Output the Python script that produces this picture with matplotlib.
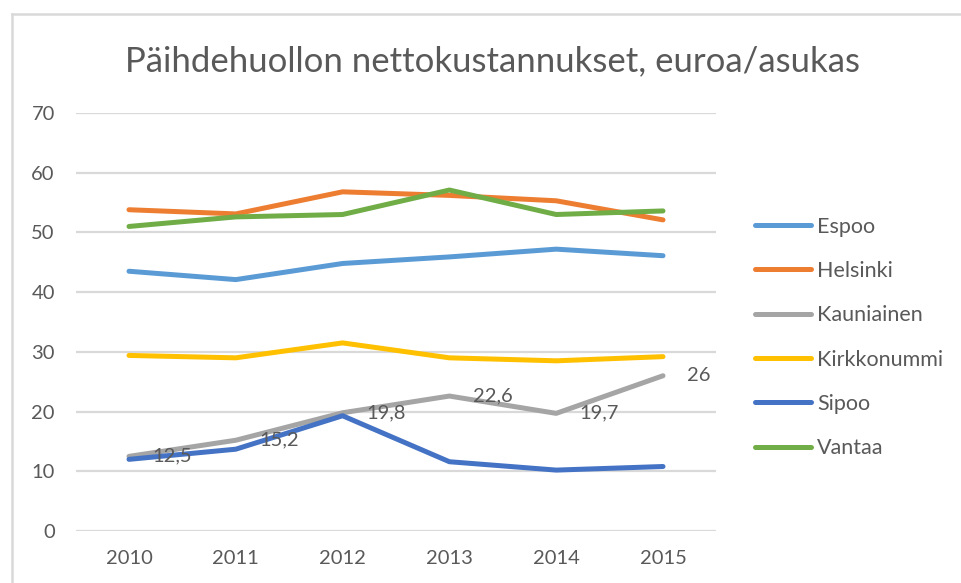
import matplotlib
matplotlib.use("Agg")
import matplotlib.pyplot as plt
from matplotlib.lines import Line2D

years = ["2010", "2011", "2012", "2013", "2014", "2015"]
espoo = [43.5, 42.1, 44.8, 45.9, 47.2, 46.1]
helsinki = [53.8, 53.1, 56.8, 56.2, 55.3, 52.1]
kauniainen = [12.5, 15.2, 19.8, 22.6, 19.7, 26.0]
kirkkonummi = [29.4, 29.0, 31.5, 29.0, 28.5, 29.2]
sipoo = [12.0, 13.7, 19.3, 11.6, 10.2, 10.8]
vantaa = [51.0, 52.6, 53.0, 57.1, 53.0, 53.6]

series_names = ["Espoo", "Helsinki", "Kauniainen", "Kirkkonummi", "Sipoo", "Vantaa"]
series_values = [espoo, helsinki, kauniainen, kirkkonummi, sipoo, vantaa]
series_colors = ["#5B9BD5", "#ED7D31", "#A5A5A5", "#FFC000", "#4472C4", "#70AD47"]

y_ticks = [0, 10, 20, 30, 40, 50, 60, 70]
title = "Päihdehuollon nettokustannukset, euroa/asukas"

plt.rcParams["font.family"] = ["Lato", "DejaVu Sans"]
text_color = "#595959"
grid_color = "#D9D9D9"

W, H = 962, 583
fig = plt.figure(figsize=(W / 100, H / 100), dpi=100)
fig.patch.set_facecolor("white")

# chart frame (top and left edges)
fig.add_artist(Line2D([12 / W, 1.0], [1 - 14 / H, 1 - 14 / H], color=grid_color, lw=1.8,
                      transform=fig.transFigure))
fig.add_artist(Line2D([12 / W, 12 / W], [0.0, 1 - 14 / H], color=grid_color, lw=1.8,
                      transform=fig.transFigure))

ax = fig.add_axes([75.6 / W, 52 / H, 640.8 / W, 418 / H])
x = list(range(len(years)))

for name, vals, col in zip(series_names, series_values, series_colors):
    ax.plot(x, vals, color=col, lw=3.6, label=name,
            solid_capstyle="round", solid_joinstyle="round")

# value labels for Kauniainen
for xi, v in zip(x, kauniainen):
    txt = f"{v:g}".replace(".", ",")
    ax.annotate(txt, (xi, v), xytext=(17, 0), textcoords="offset points",
                ha="left", va="center", fontsize=14.5, color=text_color)

ax.set_xlim(-0.5, len(years) - 0.5)
ax.set_ylim(0, 70)
ax.set_yticks(y_ticks)
ax.set_xticks(x)
ax.set_xticklabels(years)
ax.yaxis.grid(True, color=grid_color, lw=1.6)
ax.set_axisbelow(True)
for s in ax.spines.values():
    s.set_visible(False)
ax.tick_params(axis="both", length=0, labelsize=14.5, labelcolor=text_color)
ax.tick_params(axis="y", pad=15)
ax.tick_params(axis="x", pad=14)

fig.text(493 / W, 1 - 61 / H, title, ha="center", va="center",
         fontsize=25, color=text_color)

fig.legend(loc="center left", bbox_to_anchor=(755 / W, 1 - 337.5 / H),
           frameon=False, fontsize=15.5, labelcolor=text_color,
           handlelength=2.6, handletextpad=0.28, labelspacing=1.13,
           borderpad=0, borderaxespad=0)

fig.savefig("out.png", dpi=100)
